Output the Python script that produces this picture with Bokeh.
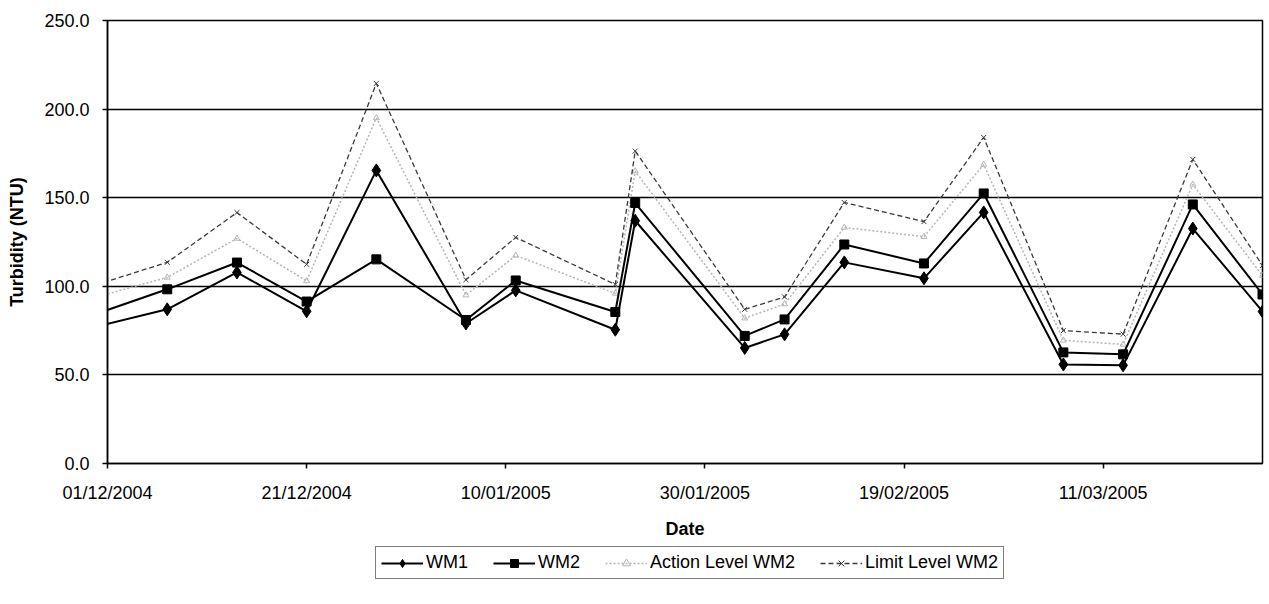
import pandas as pd
from bokeh.plotting import figure
from bokeh.layouts import column
from bokeh.models import (Legend, LegendItem, FixedTicker, NumeralTickFormatter,
                          DatetimeTickFormatter, Range1d, ColumnDataSource)
from bokeh.embed import file_html
from bokeh.resources import INLINE

# ---- data ----
dates = ["2004-11-26", "2004-12-07", "2004-12-14", "2004-12-21", "2004-12-28",
         "2005-01-06", "2005-01-11", "2005-01-21", "2005-01-23", "2005-02-03",
         "2005-02-07", "2005-02-13", "2005-02-21", "2005-02-27", "2005-03-07",
         "2005-03-13", "2005-03-20", "2005-03-27"]
wm1 = [72.0, 87.0, 107.8, 85.9, 165.4, 79.0, 97.7, 75.5, 137.0, 65.2,
       72.9, 113.5, 104.5, 141.7, 55.9, 55.4, 132.6, 85.8]
wm2 = [77.0, 98.3, 113.4, 91.4, 115.2, 81.0, 103.3, 85.5, 147.0, 72.0,
       81.3, 123.6, 112.9, 152.4, 62.7, 61.6, 146.2, 95.4]
action_wm2 = [88.0, 105.0, 127.0, 103.0, 195.0, 95.0, 117.4, 96.0, 165.0, 82.0,
              90.0, 133.2, 128.0, 168.7, 69.5, 67.2, 157.5, 106.0]
limit_wm2 = [94.0, 113.5, 141.6, 112.4, 214.5, 103.7, 127.6, 101.0, 176.3, 87.0,
             94.0, 147.3, 136.5, 184.0, 75.0, 73.0, 171.6, 111.7]

x_start = "2004-12-01"
x_end = "2005-03-27"
x_tick_dates = ["2004-12-01", "2004-12-21", "2005-01-10", "2005-01-30",
                "2005-02-19", "2005-03-11"]
y_ticks = [0, 50, 100, 150, 200, 250]
series_labels = ["WM1", "WM2", "Action Level WM2", "Limit Level WM2"]

FONT = "Liberation Sans"

# series styles
STY = {
    "WM1": dict(line=dict(line_color="black", line_width=2),
                mark=dict(marker="diamond", size=13, fill_color="black", line_color="black")),
    "WM2": dict(line=dict(line_color="black", line_width=2),
                mark=dict(marker="square", size=9, fill_color="black", line_color="black")),
    "Action Level WM2": dict(line=dict(line_color="#b5b5b5", line_dash="2 2", line_width=1.5),
                             mark=dict(marker="triangle", size=6, fill_color=None, line_color="#b5b5b5")),
    "Limit Level WM2": dict(line=dict(line_color="#3a3a3a", line_dash="5 3", line_width=1.3),
                            mark=dict(marker="x", size=7, line_color="#3a3a3a")),
}

src = ColumnDataSource(dict(x=pd.to_datetime(dates), wm1=wm1, wm2=wm2,
                            action=action_wm2, limit=limit_wm2))
cols = dict(zip(series_labels, ["wm1", "wm2", "action", "limit"]))

p = figure(width=1265, height=545, x_axis_type="datetime",
           output_backend="svg", toolbar_location=None,
           x_range=Range1d(pd.Timestamp(x_start), pd.Timestamp(x_end)),
           y_range=Range1d(0, 250),
           min_border_left=107, min_border_right=3, min_border_top=20,
           min_border_bottom=82)
p.background_fill_color = "white"
p.border_fill_color = "white"
p.outline_line_color = "black"
p.outline_line_width = 1.5

# draw action/limit first so WM lines sit on top
for lab in ["Action Level WM2", "Limit Level WM2", "WM2", "WM1"]:
    p.line("x", cols[lab], source=src, **STY[lab]["line"])
    p.scatter("x", cols[lab], source=src, **STY[lab]["mark"])

# axes
tick_ms = [pd.Timestamp(d).timestamp() * 1000 for d in x_tick_dates]
p.xaxis.ticker = FixedTicker(ticks=tick_ms)
fmt = "%d/%m/%Y"
p.xaxis.formatter = DatetimeTickFormatter(
    microseconds=fmt, milliseconds=fmt, seconds=fmt, minsec=fmt, minutes=fmt,
    hourmin=fmt, hours=fmt, days=fmt, months=fmt, years=fmt)
p.yaxis.ticker = FixedTicker(ticks=y_ticks)
p.yaxis.formatter = NumeralTickFormatter(format="0.0")

for ax in (p.xaxis[0], p.yaxis[0]):
    ax.axis_line_color = "black"
    ax.axis_line_width = 1.5
    ax.major_tick_line_color = "black"
    ax.major_tick_line_width = 1.5
    ax.major_tick_in = 0
    ax.major_tick_out = 5
    ax.minor_tick_line_color = None
    ax.major_label_text_font = FONT
    ax.major_label_text_font_size = "18px"
    ax.major_label_text_color = "black"
    ax.axis_label_text_font = FONT
    ax.axis_label_text_font_size = "18px"
    ax.axis_label_text_font_style = "bold"
    ax.axis_label_text_color = "black"

p.xaxis.axis_label = "Date"
p.xaxis.major_label_standoff = 14
p.xaxis.axis_label_standoff = 13
p.yaxis.axis_label = "Turbidity (NTU)"
p.yaxis.major_label_standoff = 13
p.yaxis.axis_label_standoff = 14

p.xgrid.visible = False
p.ygrid.grid_line_color = "black"
p.ygrid.grid_line_width = 1.5

# ---- legend strip below the chart (its data lies outside this strip's view) ----
lf = figure(width=1265, height=50, output_backend="svg", toolbar_location=None,
            x_range=Range1d(0, 1), y_range=Range1d(0, 1),
            x_axis_location=None, y_axis_location=None,
            min_border_left=0, min_border_right=0, min_border_top=0,
            min_border_bottom=0)
lf.outline_line_color = None
lf.background_fill_color = "white"
lf.border_fill_color = "white"
lf.xgrid.visible = False
lf.ygrid.visible = False
items = []
for lab in series_labels:
    rl = lf.line("x", cols[lab], source=src, **STY[lab]["line"])
    rm = lf.scatter("x", cols[lab], source=src, **STY[lab]["mark"])
    items.append(LegendItem(label=lab, renderers=[rl, rm]))

legend = Legend(items=items, orientation="horizontal", location=(268, 16))
legend.label_text_font = FONT
legend.label_text_font_size = "18px"
legend.label_text_color = "black"
legend.border_line_color = "black"
legend.border_line_width = 1
legend.padding = 5
legend.spacing = 25
legend.glyph_width = 42
legend.label_standoff = 3
legend.margin = 0
lf.add_layout(legend, "center")

layout = column(p, lf, spacing=0)
open("out.html", "w").write(file_html(layout, INLINE))
